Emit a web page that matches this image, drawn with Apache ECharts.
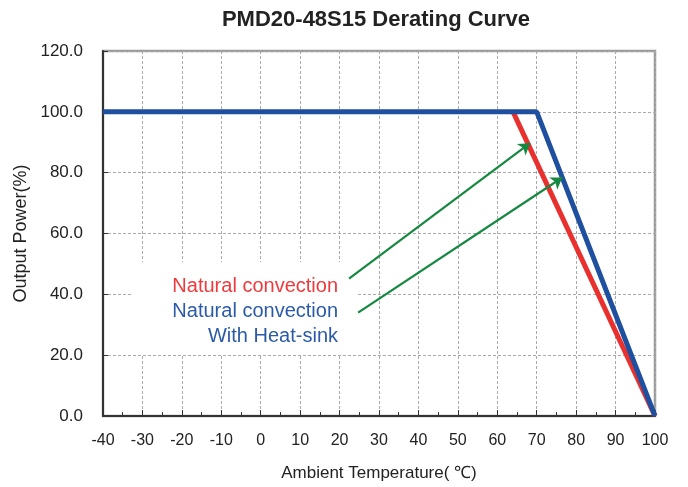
<!DOCTYPE html>
<html>
<head>
<meta charset="utf-8">
<script src="https://cdn.jsdelivr.net/npm/echarts@6/dist/echarts.min.js"></script>
<style>
  html, body { margin: 0; padding: 0; background: #fff; }
  #chart { width: 688px; height: 487px; }
</style>
</head>
<body>
<div id="chart"></div>
<script>
// 数据
var xTicks = [-40, -30, -20, -10, 0, 10, 20, 30, 40, 50, 60, 70, 80, 90, 100];
var yTicks = [0, 20, 40, 60, 80, 100, 120];
var naturalTemp = [64, 100];
var naturalPower = [100, 0];
var heatsinkTemp = [-40, 70, 100];
var heatsinkPower = [100, 100, 0];
// 箭头 (起点 -> 终点)
var arrowFrom = [[22.4, 45.2], [24.7, 34.0]];
var arrowTo = [[68.3, 89.7], [76.5, 78.4]];
var legendLines = ['Natural convection', 'Natural convection', 'With Heat-sink'];

function zip(xs, ys) {
    return xs.map(function (x, i) { return [x, ys[i]]; });
}

var chart = echarts.init(document.getElementById('chart'));
var font = 'Liberation Sans, Arial, sans-serif';

var option = {
    animation: false,
    backgroundColor: '#fff',
    title: {
        text: 'PMD20-48S15 Derating Curve',
        left: 371,
        textAlign: 'center',
        top: 4,
        textStyle: { fontFamily: font, fontSize: 22, fontWeight: 'bold', color: '#222' }
    },
    grid: {
        left: 103, right: 33, top: 51, bottom: 71,
        show: true, borderColor: '#9a9a9a', borderWidth: 2.5
    },
    xAxis: {
        type: 'value',
        min: xTicks[0], max: xTicks[xTicks.length - 1], interval: 10,
        name: 'Ambient Temperature( ℃)',
        nameLocation: 'middle',
        nameGap: 49,
        nameTextStyle: { fontFamily: font, fontSize: 17, color: '#222' },
        axisLine: { onZero: false, lineStyle: { color: '#333', width: 2 } },
        axisTick: { inside: true, length: 6, lineStyle: { color: '#333' } },
        minorTick: { show: true, splitNumber: 2, length: 4, lineStyle: { color: '#333' } },
        axisLabel: { margin: 17, fontFamily: font, fontSize: 16, color: '#222' },
        splitLine: { lineStyle: { color: '#aaa', type: [3, 2], width: 1 } }
    },
    yAxis: {
        type: 'value',
        min: yTicks[0], max: yTicks[yTicks.length - 1], interval: 20,
        name: 'Output Power(%)',
        nameLocation: 'middle',
        nameGap: 70,
        nameTextStyle: { fontFamily: font, fontSize: 18, color: '#222' },
        axisLine: { show: true, onZero: false, lineStyle: { color: '#333', width: 2 } },
        axisTick: { show: true, inside: true, length: 5, lineStyle: { color: '#333' } },
        axisLabel: {
            margin: 20, fontFamily: font, fontSize: 17, color: '#222',
            formatter: function (v) { return v.toFixed(1); }
        },
        splitLine: { lineStyle: { color: '#aaa', type: [3, 2], width: 1 } }
    },
    graphic: [
        {
            type: 'rect', z: 1,
            shape: { x: 133, y: 262, width: 224, height: 93 },
            style: { fill: '#fff' }
        },
        {
            type: 'text', z: 10,
            style: { x: 338, y: 286, text: legendLines[0], fill: '#ee3a3c',
                     font: '20px ' + font, textAlign: 'right', textVerticalAlign: 'middle' }
        },
        {
            type: 'text', z: 10,
            style: { x: 338, y: 311.5, text: legendLines[1], fill: '#2b5aa8',
                     font: '20px ' + font, textAlign: 'right', textVerticalAlign: 'middle' }
        },
        {
            type: 'text', z: 10,
            style: { x: 338, y: 336, text: legendLines[2], fill: '#2b5aa8',
                     font: '20px ' + font, textAlign: 'right', textVerticalAlign: 'middle' }
        }
    ],
    series: [
        {
            name: 'Natural convection',
            type: 'line',
            data: zip(naturalTemp, naturalPower),
            symbol: 'none',
            z: 3,
            lineStyle: { color: '#e8302e', width: 5 }
        },
        {
            name: 'With Heat-sink',
            type: 'line',
            data: zip(heatsinkTemp, heatsinkPower),
            symbol: 'none',
            z: 4,
            lineStyle: { color: '#1f4f9f', width: 5 }
        },
        {
            type: 'lines',
            coordinateSystem: 'cartesian2d',
            z: 5,
            symbol: ['none', 'arrow'],
            symbolSize: 11,
            lineStyle: { color: '#168840', width: 2.2, opacity: 1 },
            data: arrowFrom.map(function (p, i) { return { coords: [p, arrowTo[i]] }; })
        }
    ]
};

chart.setOption(option);
</script>
</body>
</html>
